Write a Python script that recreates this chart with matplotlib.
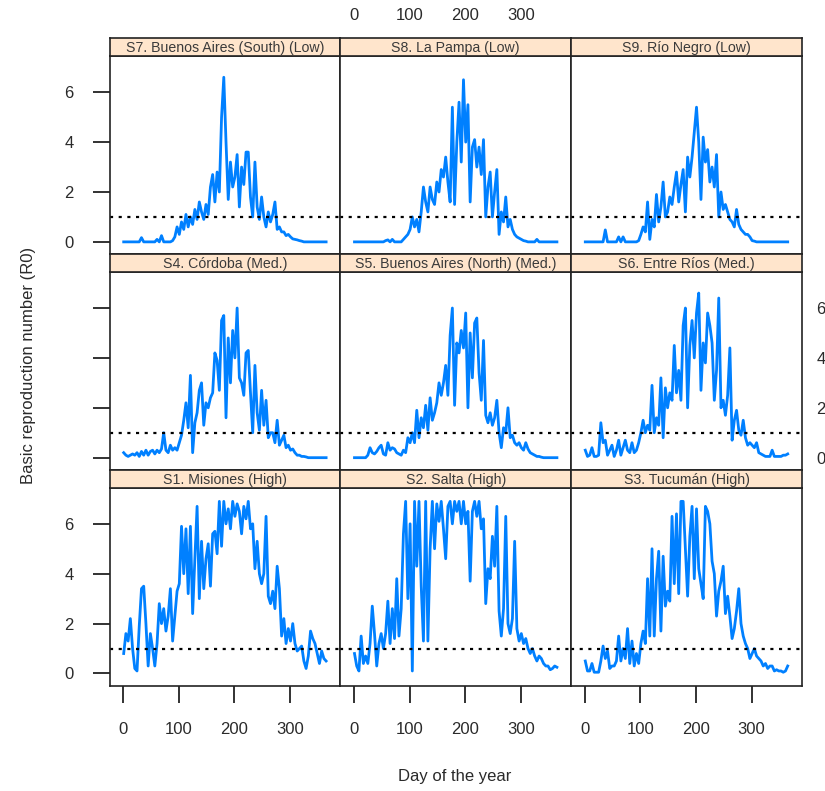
import numpy as np
import matplotlib
matplotlib.use("Agg")
import matplotlib.pyplot as plt

plt.rcParams['font.family'] = ['Liberation Sans', 'DejaVu Sans']

# day of the year, one value every 4 days (1, 5, ..., 365)
days = np.arange(1, 366, 4)

# R0, one list per site
s7_buenos_aires_south = [
    0, 0, 0, 0, 0, 0, 0, 0, 0.17, 0,
    0, 0, 0, 0, 0, 0.1, 0, 0.25, 0, 0,
    0, 0, 0.05, 0.2, 0.6, 0.3, 0.8, 0.5, 1.1, 0.6,
    1.0, 0.7, 1.3, 0.9, 1.6, 1.2, 0.9, 1.5, 1.1, 2.2,
    2.7, 1.6, 2.8, 2.0, 5.0, 6.6, 4.0, 1.7, 3.2, 2.2,
    2.6, 3.5, 1.4, 3.0, 2.3, 3.6, 3.6, 1.8, 1.0, 3.2,
    1.4, 0.9, 1.8, 1.0, 0.6, 1.2, 0.8, 1.1, 1.6, 0.5,
    0.6, 0.4, 0.4, 0.25, 0.3, 0.2, 0.12, 0.1, 0.08, 0.05,
    0.03, 0, 0, 0, 0, 0, 0, 0, 0, 0, 0, 0]
s8_la_pampa = [
    0, 0, 0, 0, 0, 0, 0, 0, 0, 0,
    0, 0, 0, 0, 0.05, 0.08, 0, 0.1, 0, 0,
    0, 0, 0.1, 0.2, 0.3, 0.5, 1.0, 0.6, 0.9, 0.4,
    1.2, 2.2, 1.6, 1.2, 2.2, 1.7, 1.5, 2.4, 2.0, 2.9,
    2.6, 3.4, 2.4, 1.6, 5.4, 1.5, 4.0, 5.6, 3.2, 6.5,
    4.0, 5.5, 1.6, 3.8, 4.1, 3.0, 3.8, 2.7, 4.1, 1.0,
    2.2, 2.8, 1.0, 2.0, 2.9, 0.3, 1.2, 0.8, 1.8, 0.6,
    0.9, 0.5, 0.3, 0.2, 0.15, 0.1, 0.05, 0.03, 0, 0,
    0, 0, 0.1, 0, 0, 0, 0, 0, 0, 0, 0, 0]
s9_rio_negro = [
    0, 0, 0, 0, 0, 0, 0, 0, 0, 0.48,
    0, 0, 0, 0, 0, 0.2, 0, 0.2, 0, 0,
    0, 0, 0, 0, 0.05, 0.3, 0.6, 0.4, 1.6, 0.1,
    0.9, 0.6, 1.9, 0.8, 1.4, 2.4, 1.0, 1.2, 1.8, 1.5,
    2.2, 2.8, 1.6, 2.3, 2.9, 1.2, 3.4, 2.6, 3.4, 4.4,
    5.4, 4.0, 1.7, 4.2, 3.2, 3.7, 2.4, 3.0, 2.2, 3.5,
    1.0, 2.0, 1.3, 1.5, 1.2, 0.9, 0.8, 0.6, 1.3, 0.7,
    0.5, 0.4, 0.3, 0.3, 0.2, 0.05, 0.03, 0, 0, 0,
    0, 0, 0, 0, 0, 0, 0, 0, 0, 0, 0, 0]
s4_cordoba = [
    0.2, 0.1, 0.05, 0.1, 0.15, 0.1, 0.2, 0.05, 0.25, 0.1,
    0.3, 0.1, 0.25, 0.3, 0.15, 0.3, 0.2, 0.35, 1.0, 0.3,
    0.2, 0.5, 0.3, 0.4, 0.3, 0.6, 0.9, 1.5, 2.2, 1.2,
    3.3, 0.2, 1.4, 1.8, 2.7, 3.0, 1.3, 2.2, 2.0, 2.4,
    2.6, 4.2, 3.9, 2.7, 5.5, 5.7, 1.6, 4.8, 3.0, 5.1,
    4.0, 6.0, 3.2, 3.0, 2.5, 4.2, 4.3, 2.6, 1.0, 3.7,
    1.8, 1.1, 2.7, 1.3, 2.3, 0.8, 1.0, 1.0, 0.6, 1.5,
    0.5, 0.7, 0.9, 0.4, 0.5, 0.3, 0.35, 0.2, 0.1, 0.1,
    0.05, 0.05, 0.03, 0, 0, 0, 0, 0, 0, 0, 0, 0]
s5_buenos_aires_north = [
    0, 0, 0, 0, 0, 0, 0.1, 0.4, 0.2, 0.15,
    0.25, 0.4, 0.5, 0.15, 0.1, 0.6, 0.3, 0.4, 0.35, 0.2,
    0.15, 0.1, 0.3, 0.2, 0.8, 0.6, 1.0, 0.6, 1.9, 0.8,
    1.6, 1.2, 2.1, 1.1, 2.4, 1.5, 1.8, 2.2, 3.0, 2.5,
    3.0, 3.7, 2.5, 4.9, 6.0, 2.1, 4.6, 4.2, 5.1, 4.4,
    5.8, 2.0, 5.0, 3.2, 5.4, 5.6, 3.4, 2.3, 4.7, 1.7,
    1.4, 1.8, 1.3, 1.6, 2.3, 1.0, 0.4, 1.2, 1.0, 2.0,
    0.8, 0.9, 0.6, 0.5, 0.6, 0.4, 0.3, 0.6, 0.35, 0.2,
    0.15, 0.1, 0.05, 0.05, 0.02, 0, 0, 0, 0, 0, 0, 0]
s6_entre_rios = [
    0.3, 0.05, 0.1, 0.4, 0.05, 0.05, 0.1, 1.4, 0.6, 0.7,
    0.1, 0.3, 0.5, 0.05, 0.3, 0.7, 0.1, 0.4, 0.7, 0.3,
    0.2, 0.6, 0.2, 0.3, 0.6, 1.0, 1.5, 1.0, 1.3, 1.1,
    2.9, 1.0, 1.6, 1.3, 3.2, 0.8, 2.8, 2.0, 2.6, 2.3,
    4.5, 2.6, 3.5, 2.3, 5.3, 6.0, 2.0, 4.5, 5.5, 4.0,
    5.8, 6.6, 2.7, 4.6, 3.8, 5.8, 5.3, 4.6, 2.3, 3.5,
    6.4, 2.0, 2.3, 1.7, 2.5, 4.4, 0.7, 1.5, 1.9, 1.1,
    0.9, 1.5, 0.8, 0.5, 0.6, 0.5, 0.4, 0.6, 0.2, 0.15,
    0.1, 0.05, 0.05, 0.05, 0.3, 0.05, 0.05, 0.05, 0.05, 0.1, 0.1, 0.15]
s1_misiones = [
    0.8, 1.6, 1.3, 2.2, 1.0, 0.2, 0.1, 1.9, 3.4, 3.5,
    2.0, 0.3, 1.6, 1.0, 0.3, 1.2, 2.8, 2.0, 2.6, 1.7,
    2.3, 3.4, 1.3, 2.3, 3.3, 3.6, 5.9, 4.0, 5.8, 3.2,
    5.9, 2.4, 4.6, 6.7, 3.0, 5.3, 3.4, 4.6, 5.2, 3.5,
    5.6, 5.7, 4.8, 6.9, 5.1, 6.9, 6.0, 6.6, 5.8, 6.9,
    6.3, 6.8, 6.5, 5.6, 6.7, 6.2, 6.9, 5.8, 6.0, 4.2,
    5.3, 4.0, 3.6, 4.0, 6.3, 3.1, 2.8, 3.3, 2.6, 4.3,
    3.4, 1.5, 2.2, 1.2, 1.8, 1.3, 2.0, 1.2, 0.9, 1.0,
    1.1, 0.5, 0.2, 0.7, 1.7, 1.4, 1.2, 0.8, 0.4, 0.9, 0.6, 0.5]
s2_salta = [
    0.8, 0.3, 0.1, 1.5, 0.4, 0.7, 0.4, 1.2, 2.7, 1.6,
    0.3, 1.2, 1.6, 1.0, 1.6, 2.9, 1.2, 2.6, 1.4, 3.8,
    1.5, 2.6, 5.6, 6.9, 3.0, 6.0, 0.1, 6.9, 4.3, 6.9,
    3.5, 1.3, 6.9, 1.3, 5.0, 6.9, 5.0, 6.8, 6.1, 6.9,
    5.8, 4.6, 6.7, 6.9, 6.0, 6.9, 6.5, 6.9, 6.0, 6.9,
    6.0, 6.5, 3.7, 6.5, 6.9, 6.3, 6.9, 5.8, 6.2, 2.8,
    4.2, 3.8, 5.5, 4.3, 6.7, 2.5, 1.5, 2.6, 6.3, 2.0,
    1.6, 2.2, 5.3, 1.8, 1.3, 1.6, 1.2, 1.4, 1.0, 0.8,
    1.0, 0.7, 0.5, 0.7, 0.6, 0.4, 0.3, 0.3, 0.15, 0.2, 0.3, 0.25]
s3_tucuman = [
    0.5, 0.1, 0.1, 0.4, 0.05, 0.05, 0.05, 0.5, 1.1, 0.6,
    0.9, 0.2, 0.3, 0.3, 0.5, 1.5, 0.5, 1.0, 0.6, 1.8,
    0.4, 1.3, 0.3, 0.8, 0.4, 1.2, 1.7, 1.2, 3.8, 1.5,
    5.0, 1.5, 3.8, 4.9, 1.7, 4.7, 2.7, 3.3, 2.9, 6.3,
    3.6, 6.4, 3.2, 6.9, 6.9, 5.0, 3.1, 5.5, 6.7, 3.8,
    6.6, 4.2, 3.6, 3.0, 6.7, 6.5, 6.0, 4.5, 4.0, 2.3,
    3.3, 3.7, 4.3, 2.4, 3.1, 2.3, 1.4, 1.8, 2.5, 3.4,
    2.0, 1.5, 1.2, 1.0, 0.6, 0.8, 1.0, 0.7, 0.6, 0.5,
    0.3, 0.4, 0.2, 0.3, 0.3, 0.1, 0.15, 0.1, 0.1, 0.05, 0.1, 0.3]

titles = [
    ["S7. Buenos Aires (South) (Low)", "S8. La Pampa (Low)", "S9. Río Negro (Low)"],
    ["S4. Córdoba (Med.)", "S5. Buenos Aires (North) (Med.)", "S6. Entre Ríos (Med.)"],
    ["S1. Misiones (High)", "S2. Salta (High)", "S3. Tucumán (High)"],
]
series = [
    [s7_buenos_aires_south, s8_la_pampa, s9_rio_negro],
    [s4_cordoba, s5_buenos_aires_north, s6_entre_rios],
    [s1_misiones, s2_salta, s3_tucuman],
]
xticks = [0, 100, 200, 300]
yticks = [0, 2, 4, 6]
threshold = 1

W, H = 825, 791
fig = plt.figure(figsize=(W / 100, H / 100), dpi=100)

def px_axes(x0, y0, w, h):
    return fig.add_axes([x0 / W, 1 - (y0 + h) / H, w / W, h / H])

col_x = [109.5, 340.3, 571.1]
col_w = 230.8
top = 38.3
strip_h = 18.0
panel_h = 197.8
blue = "#0080ff"
edge = "#222222"
txt = "#2a2a2a"

for r in range(3):
    for c in range(3):
        y_strip = top + r * (strip_h + panel_h)
        y_panel = y_strip + strip_h
        ax = px_axes(col_x[c], y_panel, col_w, panel_h)
        ax.plot(days, series[r][c], color=blue, lw=2.0)
        ax.axhline(threshold, color="black", lw=1.6, ls=(0, (1.4, 2.5)))
        ax.set_xlim(-24.5, 390.5)
        ax.set_ylim(-0.49, 7.44)
        ax.set_xticks(xticks)
        ax.set_yticks(yticks)
        for s in ax.spines.values():
            s.set_color(edge)
            s.set_linewidth(1.2)
        ax.tick_params(axis="both", direction="out", length=12.5, width=1.3,
                       color=edge, pad=13.5, labelsize=12, labelcolor=txt)
        if r < 2:
            ax.tick_params(axis="x", bottom=False, labelbottom=False)
        if c > 0:
            ax.tick_params(axis="y", left=False, labelleft=False)
        if c == 0 and r == 1:
            ax.tick_params(axis="y", labelleft=False)
        if c == 2 and r == 1:
            ax.tick_params(axis="y", right=True, labelright=True, length=0, pad=10.5)

        sx = px_axes(col_x[c], y_strip, col_w, strip_h)
        sx.set_facecolor("#ffe5cc")
        sx.set_xlim(-24.5, 390.5)
        sx.set_yticks([])
        for s in sx.spines.values():
            s.set_color(edge)
            s.set_linewidth(1.2)
        sx.text(0.5, 0.45, titles[r][c], transform=sx.transAxes, ha="center",
                va="center", fontsize=10.2, color="#3a3a3a")
        if r == 0 and c == 1:
            sx.set_xticks(xticks)
            sx.tick_params(axis="x", bottom=False, labelbottom=False, top=True,
                           labeltop=True, length=0, pad=11, labelsize=12,
                           labelcolor=txt)
        else:
            sx.set_xticks([])

fig.text(28 / W, 1 - 365 / H, "Basic reproduction number (R0)", rotation=90,
         ha="center", va="center", fontsize=12, color=txt)
fig.text(455 / W, 1 - 776 / H, "Day of the year", ha="center", va="center",
         fontsize=12, color=txt)

fig.savefig("out.png", dpi=100)
